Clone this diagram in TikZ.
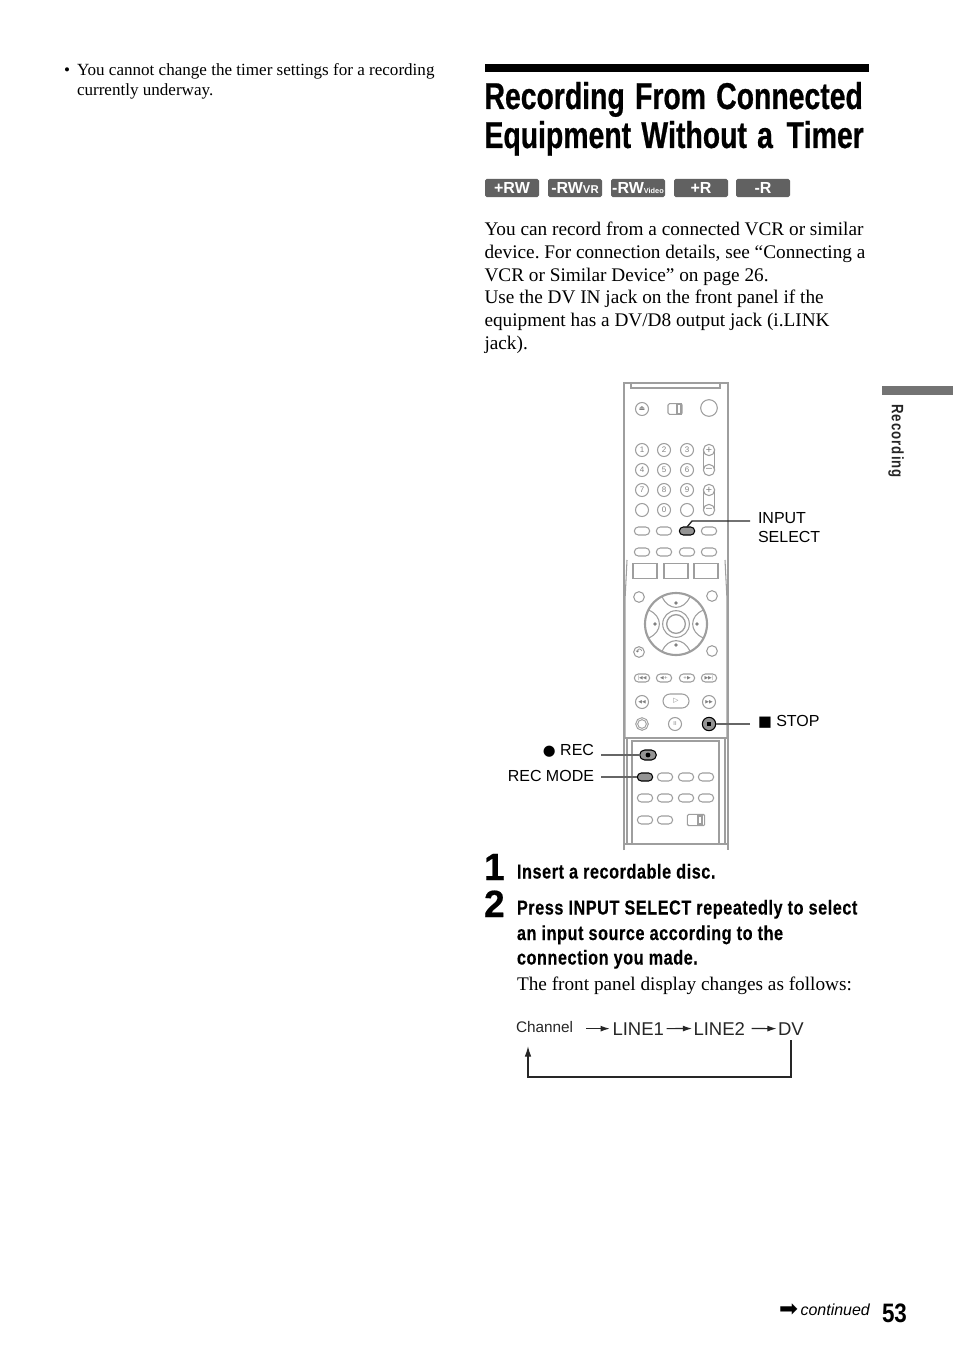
\documentclass[tikz,border=0pt]{standalone}
\usepackage{fontspec}
\usetikzlibrary{arrows.meta,shapes.misc}
\setmainfont{Liberation Serif}
\setsansfont{Liberation Sans}
\newfontfamily\headfont[FakeStretch=0.76,WordSpace=1.3,Kerning=Off,BoldFeatures={FakeBold=0.6}]{Liberation Sans}
\newfontfamily\stepfont[FakeStretch=0.80,LetterSpace=2.8,BoldFeatures={FakeBold=0.4}]{Liberation Sans}
\newfontfamily\sidefont[FakeStretch=0.80,LetterSpace=6.5]{Liberation Sans}
\newfontfamily\numfont[FakeStretch=0.84]{Liberation Sans}
\newfontfamily\bignumfont[FakeStretch=0.98,BoldFeatures={FakeBold=0.5}]{Liberation Sans}
\newfontfamily\symfont{DejaVu Sans}
\frenchspacing

\begin{document}
\begin{tikzpicture}[x=.75pt,y=-.75pt]

	\tikzstyle every node=[inner sep=0pt, outer sep=0pt];
	\tikzstyle body text=[anchor=base west, font=\fontsize{14.45}{17}\selectfont];
	\tikzstyle note text=[anchor=base west, font=\fontsize{12.8}{15}\selectfont];
	\tikzstyle head text=[anchor=base west, font=\fontsize{28}{32}\headfont\bfseries];
	\tikzstyle step text=[anchor=base west, font=\fontsize{15.2}{18}\stepfont\bfseries];
	\tikzstyle step number=[anchor=base west, font=\fontsize{28.5}{32}\bignumfont\bfseries];
	\tikzstyle disc tab=[fill=black!62, rounded corners=1.2pt, text=white, minimum width=40.5pt, minimum height=13.5pt, font=\fontsize{12}{12}\sffamily\bfseries];
	\tikzstyle call text=[font=\fontsize{12}{14}\sffamily];
	\tikzstyle flow text=[anchor=base west, font=\fontsize{13.9}{15}\sffamily, text=black!85];
	\tikzstyle remote lines=[draw=black!38, line width=.8pt];
	\tikzstyle round key=[remote lines, circle, minimum size=9.75pt, text=black!50, font=\fontsize{6}{6}\sffamily];
	\tikzstyle oval key=[remote lines, rounded rectangle, minimum width=11.5pt, minimum height=6pt, text=black!50, font=\fontsize{3.6}{4}\symfont];
	\tikzstyle flat key=[remote lines, minimum width=18pt, minimum height=11pt];
	\tikzstyle pressed key=[draw=black, fill=black!42, line width=.8pt];
	\tikzstyle call line=[draw=black!60, line width=1pt];
	\tikzstyle flow line=[-{Latex[length=7pt,width=4.5pt]}, line width=.9pt, black!85];

	\useasboundingbox (0,0) rectangle (954,1352);

	% left column
	\node[note text] (bullet) at (64,75.5) {•};
	\foreach \y/\txt in {75.5/You cannot change the timer settings for a recording, 95.5/currently underway.}
		\node[note text] (note\y) at (77,\y) {\txt};

	% heading
	\fill (485,64) rectangle (869,72);
	\node[head text] (title1) at (484.5,109) {Recording From Connected};
	\node[head text] (title2) at (484.5,148) {Equipment Without a\hspace{2.5pt} Timer};

	\foreach \x/\name/\txt in {512/a/+RW,575/b/-RW{\fontsize{8.5}{9}\selectfont VR},638/c/-RW{\fontsize{5.5}{6}\selectfont Video},701/d/+R,763/e/-R}
		\node[disc tab] (tab\name) at (\x,188) {\txt};

	\foreach \y/\txt in {235/You can record from a connected VCR or similar,
		258/{device. For connection details, see “Connecting a},
		281/VCR or Similar Device” on page 26.,
		303/Use the DV IN jack on the front panel if the,
		326/{equipment has a DV/D8 output jack (i.LINK},
		349/jack).}
		\node[body text] (para\y) at (484.5,\y) {\txt};

	% remote outline
	\draw[remote lines, line width=1.3pt] (624,850) -- (624,383) -- (728,383) -- (728,850);
	\draw[remote lines] (631,383) -- (631,388) -- (720,388) -- (720,383);
	\draw[remote lines] (627,560) -- (625,600) -- (625,738);
	\draw[remote lines] (725,560) -- (727,600) -- (727,738);
	\draw[remote lines, line width=1.3pt] (624,738) -- (728,738);
	\draw[remote lines] (627,738) -- (627,843) (725,738) -- (725,843);
	\draw[remote lines] (632,843) -- (632,741) -- (719,741) -- (719,843);
	\draw[remote lines, line width=1.6pt] (624,844) -- (728,844);

	% top keys
	\node[round key, font=\fontsize{5}{6}\symfont] (eject) at (642,409) {⏏};
	\node[remote lines, rounded corners=1pt, minimum width=10.5pt, minimum height=8pt] (power) at (675,409) {};
	\draw[remote lines] (677,404) rectangle (681,414);
	\node[round key, minimum size=12.5pt] (bigkey) at (709,408) {};

	% number keys
	\foreach \x/\y/\num in {642/450/1,664/450/2,687/450/3,642/470/4,664/470/5,687/470/6,642/490/7,664/490/8,687/490/9,642/510/{},664/510/0,687/510/{}}
		\node[round key] (num\x-\y) at (\x,\y) {\num};

	\foreach \ya/\yb in {450/470,490/510} {
		\node[round key, minimum size=8.5pt, font=\fontsize{8}{8}\sffamily] (plus\ya) at (709,\ya) {+};
		\node[round key, minimum size=8.5pt, font=\fontsize{8}{8}\sffamily] (minus\yb) at (709,\yb) {--};
		\draw[remote lines] (703.5,\ya) -- (703.5,\yb) (714.5,\ya) -- (714.5,\yb);
	}

	% oval rows
	\foreach \x in {642,664,687,709}
		\node[oval key] (upper\x) at (\x,552) {};
	\foreach \x in {642,664,709}
		\node[oval key] (row\x) at (\x,531) {};
	\node[oval key, pressed key] (inputkey) at (687,531) {};

	\foreach \x in {645,676,706}
		\node[flat key] (flat\x) at (\x,571) {};

	% arrow pad
	\node[remote lines, circle, line width=1.6pt, minimum size=46.5pt] (padring) at (676,624) {};
	\node[remote lines, circle, minimum size=20pt] (padmid) at (676,624) {};
	\node[remote lines, circle, line width=1pt, minimum size=14pt] (padok) at (676,624) {};
	\foreach \ang in {0,90,180,270} {
		\begin{scope}[shift={(676,624)}, rotate=\ang]
			\draw[remote lines] (-14,-27.5) .. controls (-8,-13) and (8,-13) .. (14,-27.5);
			\fill[black!50] (0,-21) circle (1.8);
		\end{scope}
	}

	\foreach \x/\y in {639/597,712/596,639/652,712/651}
		\node[round key, minimum size=8pt] (side\x-\y) at (\x,\y) {};
	\node[font=\fontsize{6}{6}\symfont, text=black!55] (backmark) at (639,652) {↶};

	% transport keys
	\foreach \x/\mark in {642/|◀◀,664/◀+,687/+▶,709/▶▶|}
		\node[oval key] (skip\x) at (\x,678) {\mark};
	\node[round key, font=\fontsize{3.6}{4}\symfont] (rew) at (642,702) {◀◀};
	\node[round key, font=\fontsize{3.6}{4}\symfont] (ffw) at (709,702) {▶▶};
	\node[remote lines, rounded rectangle, minimum width=19.5pt, minimum height=10.5pt, text=black!50, font=\fontsize{5}{6}\symfont] (play) at (676,701) {▷};
	\node[round key, double, double distance=.5pt, minimum size=8pt] (reckey2) at (642,724) {};
	\node[round key, font=\fontsize{4}{4}\symfont] (pause) at (675,724) {II};
	\node[round key, pressed key, minimum size=10pt] (stopkey) at (709,724) {};
	\fill (707,722) rectangle (711,726);

	% lower panel
	\node[oval key, pressed key, minimum width=12.5pt, minimum height=7.5pt] (reckey) at (648,755) {};
	\fill (648,755) circle (2.4);
	\node[oval key, pressed key] (modekey) at (645,777) {};
	\foreach \x/\y in {665/777,686/777,706/777,645/798,665/798,686/798,706/798,645/820,665/820}
		\node[oval key] (low\x-\y) at (\x,\y) {};
	\node[remote lines, rounded corners=1pt, minimum width=13pt, minimum height=8.5pt] (lowswitch) at (696,820) {};
	\draw[remote lines] (698,816) rectangle (702,824);

	% call outs
	\node[call text, anchor=base west] (inputa) at (758,523) {INPUT};
	\node[call text, anchor=base west] (inputb) at (758,542) {SELECT};
	\coordinate (inputend) at (750,521);
	\node[call text, anchor=base west] (stoptxt) at (758,726) {{\symfont\fontsize{11}{12}\selectfont ■} STOP};
	\coordinate (stopend) at (750,724);
	\node[call text, anchor=base east] (rectxt) at (594,755) {{\symfont\fontsize{11}{12}\selectfont ●} REC};
	\coordinate (recend) at (601,755);
	\node[call text, anchor=base east] (modetxt) at (594,781) {REC MODE};
	\coordinate (modeend) at (601,777);

	\draw[call line, draw=black!85] (inputend) -- (692,521) -- (inputkey.north);
	\draw[call line] (stopend) -- (stopkey);
	\draw[call line] (recend) -- (reckey);
	\draw[call line] (modeend) -- (modekey);

	% steps
	\node[step number] (one) at (484,880) {1};
	\node[step number] (two) at (484,917) {2};
	\node[step text] (stepa) at (517,878.5) {Insert a recordable disc.};
	\foreach \y/\txt in {914.5/Press INPUT SELECT repeatedly to select,940/an input source according to the,964.5/connection you made.}
		\node[step text] (stepb\y) at (517,\y) {\txt};
	\node[body text] (display) at (517,990) {The front panel display changes as follows:};

	% display cycle
	\node[flow text, font=\fontsize{11.5}{13}\sffamily] (chan) at (516,1032) {Channel};
	\node[flow text] (lineone) at (612.5,1035) {LINE1};
	\node[flow text] (linetwo) at (693.5,1035) {LINE2};
	\node[flow text] (dv) at (778,1035) {DV};
	\coordinate (dvdrop) at (791,1040);
	\coordinate (chanrise) at (528,1046);

	\draw[flow line, shorten <=10pt, shorten >=2pt] (chan.east |- lineone.west) -- (lineone.west);
	\draw[flow line, shorten <=2pt, shorten >=1pt] (lineone.east) -- (linetwo.west);
	\draw[flow line, shorten <=5pt, shorten >=1pt] (linetwo.east) -- (dv.west);
	\draw[flow line, line width=1pt, -{Latex[length=8pt,width=5pt]}] (dvdrop) -- (791,1077) -- (528,1077) -- (chanrise);

	% side tab
	\fill[black!55] (882,386) rectangle (953,395);
	\node[anchor=west, rotate=-90, font=\fontsize{12.4}{14}\sidefont\bfseries, text=black!85] (sidelabel) at (896,404) {Recording};

	% footer
	\node[anchor=west, font=\fontsize{17}{18}\symfont] (contmark) at (779,1310.5) {➡};
	\node[anchor=base west, font=\fontsize{12}{13}\sffamily\itshape] (cont) at (800.5,1315) {continued};
	\node[anchor=base west, font=\fontsize{20}{22}\numfont\bfseries] (pagenum) at (882,1322) {53};

\end{tikzpicture}
\end{document}
